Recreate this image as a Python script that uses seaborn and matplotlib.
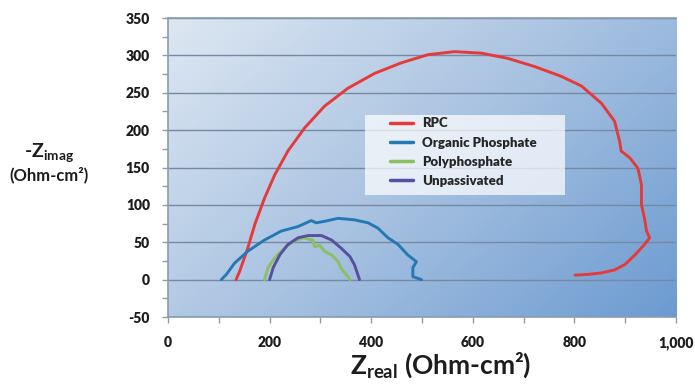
import numpy as np
import pandas as pd
import matplotlib
matplotlib.use("Agg")
import matplotlib.pyplot as plt
from matplotlib.colors import LinearSegmentedColormap
from matplotlib.patches import Rectangle
from matplotlib.ticker import MultipleLocator, FuncFormatter
import seaborn as sns

# Nyquist curves (Z real, -Z imag), Ohm-cm2
rpc_x = [134, 141, 157, 171, 190, 210, 236, 269, 308, 354, 407, 459, 512, 564,
         617, 669, 722, 774, 814, 853, 879, 889, 892, 909, 925, 932, 932, 938,
         942, 948, 938, 919, 899, 879, 853, 827, 801]
rpc_y = [0, 11, 42, 74, 109, 140, 172, 203, 232, 256, 276, 290, 301, 305,
         303, 296, 285, 272, 259, 236, 212, 185, 172, 163, 149, 127, 100, 82,
         65, 56, 47, 33, 20, 13, 9, 7, 6]

org_x = [105, 115, 131, 157, 190, 223, 256, 282, 292, 308, 335, 367, 394, 413,
         433, 453, 472, 489, 482, 482, 499]
org_y = [0, 7, 22, 38, 53, 65, 71, 79, 76, 78, 82, 80, 76, 69,
         56, 47, 33, 24, 16, 4, 0]

poly_x = [190, 197, 210, 226, 246, 266, 285, 289, 299, 308, 322, 335, 341, 348, 354, 358]
poly_y = [0, 16, 29, 40, 51, 56, 53, 44, 46, 38, 33, 24, 15, 9, 4, 0]

unp_x = [200, 207, 220, 236, 256, 276, 302, 322, 341, 358, 367, 377]
unp_y = [0, 16, 33, 47, 56, 59, 59, 53, 42, 31, 20, 0]

names = ["RPC", "Organic Phosphate", "Polyphosphate", "Unpassivated"]
colors = ["#e53a3c", "#2479b5", "#8cbf62", "#574fa0"]

df = pd.concat([
    pd.DataFrame({"zreal": rpc_x, "zimag": rpc_y, "sample": "RPC"}),
    pd.DataFrame({"zreal": org_x, "zimag": org_y, "sample": "Organic Phosphate"}),
    pd.DataFrame({"zreal": poly_x, "zimag": poly_y, "sample": "Polyphosphate"}),
    pd.DataFrame({"zreal": unp_x, "zimag": unp_y, "sample": "Unpassivated"}),
], ignore_index=True)

sns.set_style("white")
plt.rcParams["font.family"] = ["Lato", "DejaVu Sans"]
plt.rcParams["font.weight"] = "heavy"
plt.rcParams["axes.unicode_minus"] = False
plt.rcParams["mathtext.fontset"] = "custom"
plt.rcParams["mathtext.rm"] = "Lato:bold"
plt.rcParams["mathtext.it"] = "Lato:bold"
plt.rcParams["mathtext.bf"] = "Lato:bold"

fig = plt.figure(figsize=(6.95, 3.85), dpi=100)
ax = fig.add_axes([0.2417, 0.1766, 0.731, 0.7766])

# gradient plot background
bg = LinearSegmentedColormap.from_list("bg", ["#dde7f2", "#a8c2e1", "#6c9bd1"])
xx, yy = np.meshgrid(np.linspace(0, 1, 200), np.linspace(1, 0, 200))
ax.imshow(0.6 * xx + 0.4 * (1 - yy), cmap=bg, extent=[0, 1, 0, 1],
          transform=ax.transAxes, aspect="auto", zorder=0, vmin=0, vmax=1)

sns.lineplot(data=df, x="zreal", y="zimag", hue="sample", hue_order=names,
             palette=dict(zip(names, colors)), sort=False, estimator=None,
             linewidth=2.1, ax=ax, zorder=3)

ax.set_xlim(0, 1000)
ax.set_ylim(-50, 350)
ax.xaxis.set_major_locator(MultipleLocator(200))
ax.xaxis.set_minor_locator(MultipleLocator(100))
ax.yaxis.set_major_locator(MultipleLocator(50))
ax.yaxis.set_minor_locator(MultipleLocator(25))
ax.xaxis.set_major_formatter(FuncFormatter(lambda v, p: f"{int(v):,}"))
ax.yaxis.grid(True, color="#7689a3", linewidth=1)
ax.set_axisbelow(True)

for s in ["left", "bottom", "top"]:
    ax.spines[s].set_color("#8a9bb3")
    ax.spines[s].set_linewidth(1.2)
ax.spines["right"].set_visible(False)
ax.tick_params(axis="both", which="both", direction="out", length=4,
               color="#8a9bb3", width=1, labelsize=10, labelcolor="#1c1c1c")
ax.tick_params(axis="y", which="both", left=True)
ax.tick_params(axis="x", which="both", bottom=True)
ax.tick_params(axis="x", which="major", pad=10)
ax.tick_params(axis="y", which="major", pad=9)

ax.set_xlabel("")
ax.set_ylabel("")
fig.text(0.634, 0.012, r"Z$_{\mathrm{real}}$ (Ohm-cm²)", ha="center", va="bottom",
         fontsize=19, fontweight="bold", color="#1c1c1c")
fig.text(0.0705, 0.603, r"-Z$_{\mathrm{imag}}$", ha="center", va="center",
         fontsize=14, fontweight="bold", color="#1c1c1c")
fig.text(0.0705, 0.545, "(Ohm-cm²)", ha="center", va="center",
         fontsize=12, fontweight="bold", color="#1c1c1c")

# legend: translucent white box with the entries inside it
ax.add_patch(Rectangle((0.388, 0.408), 0.393, 0.268, transform=ax.transAxes,
                       facecolor="white", alpha=0.72, edgecolor="none", zorder=4))
handles, labels = ax.get_legend_handles_labels()
leg = ax.legend(handles, labels, loc="upper left", bbox_to_anchor=(0.437, 0.668),
                frameon=False, prop=dict(family="Lato", weight="heavy", size=9.5),
                handlelength=1.75, handletextpad=0.7, labelspacing=0.55,
                borderpad=0, borderaxespad=0)
leg.set_zorder(5)
for line in leg.get_lines():
    line.set_linewidth(2.5)

fig.savefig("out.png", dpi=100)
